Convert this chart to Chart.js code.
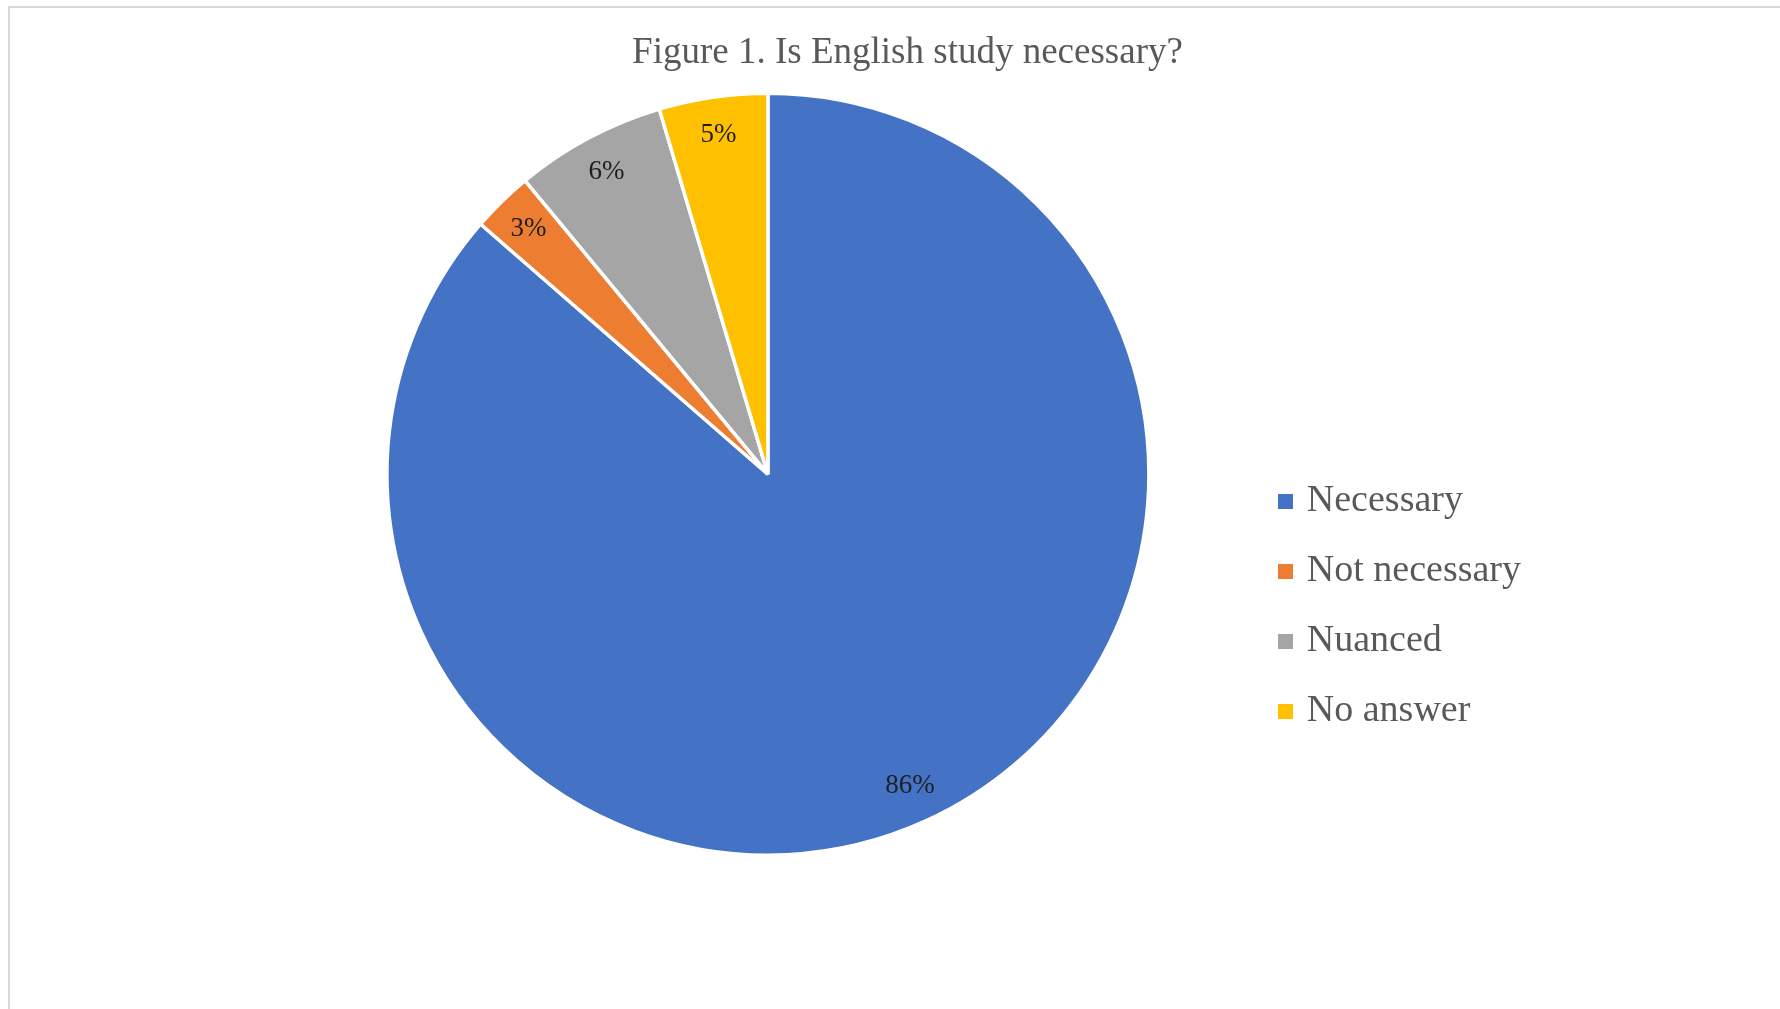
<!DOCTYPE html>
<html>
<head>
<meta charset="utf-8">
<script src="https://cdn.jsdelivr.net/npm/chart.js@4.4.1/dist/chart.umd.min.js"></script>
<style>
    html, body { margin: 0; padding: 0; background: #fff; overflow: hidden; }
    #frame {
        position: absolute;
        left: 8px;
        top: 6px;
        width: 1800px;
        height: 1020px;
        border-left: 2px solid #d9d9d9;
        border-top: 2px solid #d9d9d9;
    }
    #wrap { position: absolute; left: 10px; top: 8px; width: 1776px; height: 1001px; }
</style>
</head>
<body>
<div id="frame"></div>
<div id="wrap"><canvas id="myChart"></canvas></div>
<script>
const ctx = document.getElementById('myChart').getContext('2d');

// Answer categories and their shares (percent)
const categories = ['Necessary', 'Not necessary', 'Nuanced', 'No answer'];
const shares = [86.4, 2.6, 6.4, 4.6];
const sliceColors = ['#4472C4', '#ED7D31', '#A5A5A5', '#FFC000'];

// Small filled square used as the legend marker
function squareMarker(color) {
    const m = document.createElement('canvas');
    m.width = 15;
    m.height = 15;
    const mc = m.getContext('2d');
    mc.fillStyle = color;
    mc.fillRect(0, 0, 15, 15);
    return m;
}

// Draw the percent labels inside each slice
const sliceLabels = {
    id: 'sliceLabels',
    afterDatasetsDraw(chart) {
        const c = chart.ctx;
        const meta = chart.getDatasetMeta(0);
        const values = chart.data.datasets[0].data;
        c.save();
        c.font = '27px "Liberation Serif", serif';
        c.fillStyle = '#1f1f1f';
        c.textAlign = 'center';
        c.textBaseline = 'middle';
        meta.data.forEach((arc, i) => {
            const p = arc.getProps(['x', 'y', 'startAngle', 'endAngle', 'outerRadius'], true);
            const mid = (p.startAngle + p.endAngle) / 2;
            const r = p.outerRadius * 0.9;
            c.fillText(Math.round(values[i]) + '%', p.x + Math.cos(mid) * r, p.y + Math.sin(mid) * r);
        });
        c.restore();
    }
};

const myChart = new Chart(ctx, {
    type: 'pie',
    data: {
        labels: categories,
        datasets: [{
            data: shares,
            backgroundColor: sliceColors,
            borderColor: '#ffffff',
            borderWidth: 3.5
        }]
    },
    options: {
        responsive: true,
        maintainAspectRatio: false,
        animation: false,
        radius: 381,
        layout: {
            padding: { top: 0, left: 274, right: 255, bottom: 154 }
        },
        plugins: {
            title: {
                display: true,
                text: 'Figure 1. Is English study necessary?',
                color: '#595959',
                font: { family: '"Liberation Serif", serif', size: 37, weight: 'normal' },
                padding: { top: 23, bottom: 18 }
            },
            legend: {
                position: 'right',
                title: {
                    display: true,
                    text: ' ',
                    padding: { top: 335, bottom: 0 }
                },
                labels: {
                    usePointStyle: true,
                    boxWidth: 4,
                    boxHeight: 15,
                    padding: 32,
                    color: '#595959',
                    font: { family: '"Liberation Serif", serif', size: 38 },
                    generateLabels(chart) {
                        return chart.data.labels.map((text, i) => ({
                            text: text,
                            fillStyle: sliceColors[i],
                            strokeStyle: sliceColors[i],
                            lineWidth: 0,
                            pointStyle: squareMarker(sliceColors[i]),
                            fontColor: '#595959',
                            hidden: false,
                            index: i
                        }));
                    }
                }
            },
            tooltip: { enabled: false }
        }
    },
    plugins: [sliceLabels]
});
</script>
</body>
</html>
